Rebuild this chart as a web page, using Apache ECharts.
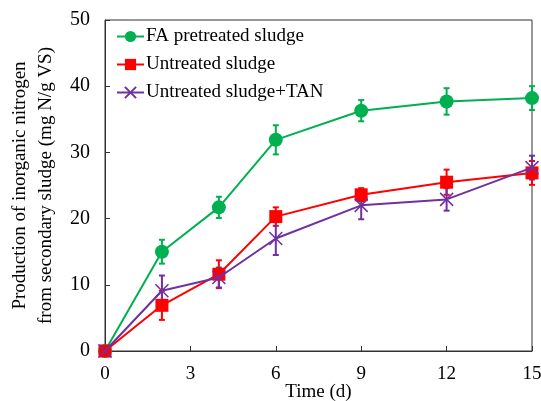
<!DOCTYPE html>
<html>
<head>
<meta charset="utf-8">
<script src="https://cdn.jsdelivr.net/npm/echarts@6/dist/echarts.min.js"></script>
<style>
  html, body { margin: 0; padding: 0; background: #fff; }
  #chart { width: 541px; height: 401px; }
</style>
</head>
<body>
<div id="chart"></div>
<script>
// 数据
var days = [0, 2, 4, 6, 9, 12, 15];
var faValues = [0, 15.0, 21.7, 31.9, 36.3, 37.7, 38.2];
var faErr = [0, 1.8, 1.6, 2.2, 1.6, 2.0, 1.8];
var untreatedValues = [0, 6.9, 11.6, 20.3, 23.6, 25.5, 26.9];
var untreatedErr = [0, 2.2, 2.1, 1.4, 1.0, 1.9, 1.8];
var tanValues = [0, 9.1, 11.1, 17.0, 22.0, 22.9, 27.7];
var tanErr = [0, 2.3, 1.5, 2.5, 2.1, 1.7, 1.8];
var seriesNames = ['FA pretreated sludge', 'Untreated sludge', 'Untreated sludge+TAN'];
var colors = ['#00b050', '#ff0000', '#7030a0'];

var font = 'Liberation Serif';

function points(vals) {
  var out = [];
  for (var i = 0; i < days.length; i++) {
    out.push([days[i], vals[i]]);
  }
  return out;
}

function errData(vals, errs) {
  var out = [];
  for (var i = 0; i < days.length; i++) {
    if (errs[i] > 0) {
      out.push([days[i], vals[i] - errs[i], vals[i] + errs[i]]);
    }
  }
  return out;
}

// 误差棒
function errSeries(vals, errs, color) {
  return {
    type: 'custom',
    data: errData(vals, errs),
    z: 1,
    renderItem: function (params, api) {
      var x = api.value(0);
      var lo = api.coord([x, api.value(1)]);
      var hi = api.coord([x, api.value(2)]);
      var cap = 3;
      var style = { stroke: color, lineWidth: 2 };
      return {
        type: 'group',
        children: [
          { type: 'line', shape: { x1: lo[0], y1: lo[1], x2: hi[0], y2: hi[1] }, style: style },
          { type: 'line', shape: { x1: lo[0] - cap, y1: lo[1], x2: lo[0] + cap, y2: lo[1] }, style: style },
          { type: 'line', shape: { x1: hi[0] - cap, y1: hi[1], x2: hi[0] + cap, y2: hi[1] }, style: style }
        ]
      };
    }
  };
}

var myChart = echarts.init(document.getElementById('chart'));
var option = {
  animation: false,
  backgroundColor: '#fff',
  grid: {
    left: 105, right: 9, top: 20, bottom: 50,
    outerBoundsMode: 'none',
    show: true, borderColor: '#333', borderWidth: 1, backgroundColor: 'transparent'
  },
  legend: {
    data: seriesNames,
    orient: 'vertical',
    left: 111,
    top: 22,
    itemWidth: 27,
    itemHeight: 14,
    itemGap: 9,
    textStyle: { fontFamily: font, fontSize: 19, color: '#000', padding: [0, 0, 0, -3] }
  },
  xAxis: {
    type: 'value',
    min: 0,
    max: 15,
    interval: 3,
    name: 'Time (d)',
    nameLocation: 'middle',
    nameGap: 32,
    nameMoveOverlap: false,
    nameTextStyle: { fontFamily: font, fontSize: 19, color: '#000' },
    axisLine: { lineStyle: { color: '#333' } },
    axisTick: { inside: true, length: 5, lineStyle: { color: '#333' } },
    axisLabel: { fontFamily: font, fontSize: 19, color: '#000', margin: 14 },
    splitLine: { show: false }
  },
  yAxis: {
    type: 'value',
    min: 0,
    max: 50,
    interval: 10,
    name: 'Production of inorganic nitrogen\nfrom secondary sludge (mg N/g VS)',
    nameLocation: 'middle',
    nameGap: 46,
    nameMoveOverlap: false,
    nameRotate: 90,
    nameTextStyle: { fontFamily: font, fontSize: 19, color: '#000', lineHeight: 26 },
    axisLine: { show: true, lineStyle: { color: '#333' } },
    axisTick: { show: true, inside: true, length: 5, lineStyle: { color: '#333' } },
    axisLabel: { fontFamily: font, fontSize: 20, color: '#000', margin: 15 },
    splitLine: { show: false }
  },
  series: [
    errSeries(faValues, faErr, colors[0]),
    errSeries(untreatedValues, untreatedErr, colors[1]),
    errSeries(tanValues, tanErr, colors[2]),
    {
      name: seriesNames[0],
      type: 'line',
      data: points(faValues),
      z: 3,
      symbol: 'circle',
      symbolSize: 14,
      lineStyle: { color: colors[0], width: 2 },
      itemStyle: { color: colors[0] }
    },
    {
      name: seriesNames[1],
      type: 'line',
      data: points(untreatedValues),
      z: 4,
      symbol: 'rect',
      symbolSize: 13,
      lineStyle: { color: colors[1], width: 2 },
      itemStyle: { color: colors[1] }
    },
    {
      name: seriesNames[2],
      type: 'line',
      data: points(tanValues),
      z: 5,
      symbol: 'path://M0,0L10,10M10,0L0,10',
      symbolSize: 13,
      lineStyle: { color: colors[2], width: 2 },
      itemStyle: { color: 'rgba(0,0,0,0)', borderColor: colors[2], borderWidth: 1.5 }
    }
  ]
};
option && myChart.setOption(option);
</script>
</body>
</html>
